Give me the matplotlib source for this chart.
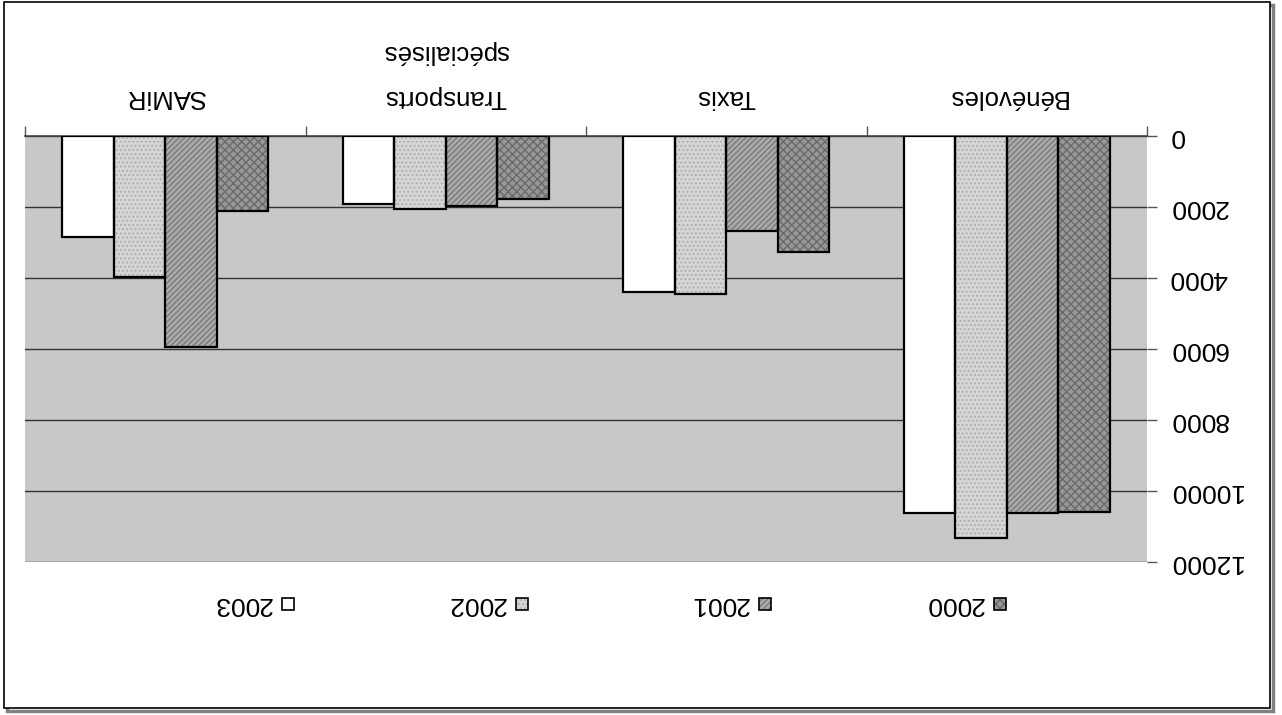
import matplotlib
matplotlib.use("Agg")
import matplotlib.pyplot as plt
from matplotlib.patches import Rectangle
import numpy as np

plt.rcParams['font.family'] = ['Liberation Sans', 'DejaVu Sans']

# donnees (image retournee de 180 degres)
categories = ['Bénévoles', 'Taxis', 'Transports\nspécialisés', 'SAMiR']
years = ['2000', '2001', '2002', '2003']
v2000 = [10590, 3270, 1780, 2110]
v2001 = [10640, 2680, 1970, 5940]
v2002 = [11340, 4460, 2060, 3970]
v2003 = [10640, 4410, 1910, 2860]
y_ticks = [0, 2000, 4000, 6000, 8000, 10000, 12000]

series = [v2000, v2001, v2002, v2003]
fills = ['#979797', '#ababab', '#d6d6d6', '#ffffff']
hatches = ['xxxx', '//////', '....', '']
hatch_cols = ['#6a6a6a', '#7a7a7a', '#b0b0b0', '#ffffff']

fig = plt.figure(figsize=(12.82, 7.15), dpi=100)
fig.patch.set_facecolor('white')

# cadre exterieur avec ombre (sous les axes)
fig.patches.append(Rectangle((7/1282, 1-711/715), 1266/1282, 706/715, transform=fig.transFigure,
                             fill=False, edgecolor='#808080', linewidth=2.5, zorder=-2))
fig.patches.append(Rectangle((4/1282, 1-708/715), 1266/1282, 706/715, transform=fig.transFigure,
                             facecolor='white', edgecolor='black', linewidth=1.2, zorder=-1))

ax = fig.add_axes([25/1282, 1-561.7/715, (1147-25)/1282, (561.7-135.7)/715])
ax.set_facecolor('#c8c8c8')

w = 0.1833
x = np.arange(len(categories)) + 0.5
for j, vals in enumerate(series):
    pos = x + (j - 1.5) * w
    # remplissage avec motif, puis contour noir
    ax.bar(pos, vals, w, color=fills[j], hatch=hatches[j], edgecolor=hatch_cols[j],
           linewidth=0, zorder=3)
    ax.bar(pos, vals, w, fill=False, edgecolor='black', linewidth=1.6, zorder=4)

ax.set_xlim(4, 0)
ax.set_ylim(12000, 0)

ax.set_yticks(y_ticks)
ax.set_yticklabels([str(t) for t in y_ticks], rotation=180, va='center', ha='left', fontsize=19)
ax.yaxis.tick_right()
ax.tick_params(axis='y', direction='out', length=7, width=1, color='#555555', pad=9)
ax.grid(axis='y', color='#333333', linewidth=1, zorder=1)

ax.set_xticks([0, 1, 2, 3, 4])
ax.set_xticklabels([])
ax.xaxis.tick_top()
ax.tick_params(axis='x', direction='out', length=7, width=1, color='#555555')

for s in ['left', 'right', 'bottom']:
    ax.spines[s].set_visible(False)
ax.spines['top'].set_color('#444444')
ax.spines['top'].set_linewidth(1.2)

for xi, cat in zip(x, categories):
    ax.text(xi, -750, cat, rotation=180, ha='center', va='bottom', fontsize=18.5,
            linespacing=2.1, clip_on=False)

# legende (retournee elle aussi)
leg_x = [1000, 765, 522, 288]
for j, yr in enumerate(years):
    cx = leg_x[j] / 1282
    cy = 1 - 604 / 715
    sw, sh = 12 / 1282, 12 / 715
    fig.patches.append(Rectangle((cx - sw/2, cy - sh/2), sw, sh, transform=fig.transFigure,
                                 facecolor=fills[j], hatch=hatches[j], edgecolor=hatch_cols[j],
                                 linewidth=0, zorder=3))
    fig.patches.append(Rectangle((cx - sw/2, cy - sh/2), sw, sh, transform=fig.transFigure,
                                 fill=False, edgecolor='black', linewidth=1.2, zorder=4))
    fig.text(cx - 16/1282, cy, yr, rotation=180, ha='right', va='center', fontsize=19)

fig.savefig('out.png', dpi=100)
